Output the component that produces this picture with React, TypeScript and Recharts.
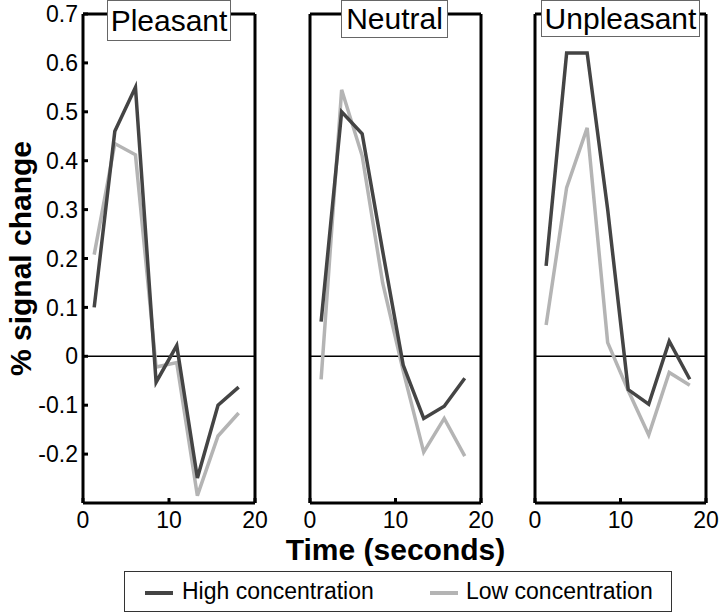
import { LineChart, Line, XAxis, YAxis, ReferenceLine } from 'recharts';

// time of each sample (seconds)
const times = [1.3, 3.7, 6.1, 8.5, 10.9, 13.3, 15.7, 18.1];

const pleasantHigh = [0.1, 0.46, 0.55, -0.053, 0.022, -0.249, -0.1, -0.063];
const pleasantLow = [0.208, 0.435, 0.412, -0.022, -0.013, -0.285, -0.163, -0.116];
const neutralHigh = [0.071, 0.5, 0.455, 0.215, -0.018, -0.127, -0.102, -0.045];
const neutralLow = [-0.047, 0.545, 0.41, 0.15, -0.03, -0.196, -0.127, -0.204];
const unpleasantHigh = [0.185, 0.62, 0.62, 0.3, -0.068, -0.098, 0.031, -0.047];
const unpleasantLow = [0.064, 0.345, 0.467, 0.028, -0.07, -0.161, -0.033, -0.059];

const yTicks = [-0.2, -0.1, 0, 0.1, 0.2, 0.3, 0.4, 0.5, 0.6, 0.7];
const xTicks = [0, 10, 20];

const HIGH = '#444';
const LOW = '#b4b4b4';
const FONT = '"Liberation Sans", Arial, sans-serif';

// left: div offset, yw: y axis width, rw: right margin
const panels = [
   { title: 'Pleasant', high: pleasantHigh, low: pleasantLow, left: 0, yw: 83, rw: 15, plotW: 172, box: [107, 124, 41] },
   { title: 'Neutral', high: neutralHigh, low: neutralLow, left: 275, yw: 35, rw: 35, plotW: 171, box: [341, 107, 38] },
   { title: 'Unpleasant', high: unpleasantHigh, low: unpleasantLow, left: 525, yw: 10, rw: 15, plotW: 171, box: [541, 159, 37] }
];

const legendItems = [
   { name: 'High concentration', color: HIGH, x: 20, tx: 57 },
   { name: 'Low concentration', color: LOW, x: 305, tx: 341 }
];

const Panel = ({ p, idx }: { p: (typeof panels)[number]; idx: number }) => {
   const data = times.map((t, i) => ({ t, high: p.high[i], low: p.low[i] }));
   const first = idx === 0;
   return (
      <div style={{ position: 'absolute', left: p.left, top: 0 }}>
         <LineChart
            width={p.yw + p.plotW + p.rw}
            height={612}
            data={data}
            margin={{ top: 14, right: p.rw, bottom: 79, left: 0 }}>
            <XAxis
               type="number"
               dataKey="t"
               domain={[0, 20]}
               ticks={xTicks}
               height={30}
               axisLine={{ stroke: '#000', strokeWidth: 3 }}
               tickLine={{ stroke: '#000', strokeWidth: 3 }}
               tickSize={-5}
               tickMargin={14}
               tick={{ fill: '#000', fontSize: 23 }}
               label={
                  idx === 1
                     ? {
                          value: 'Time (seconds)',
                          position: 'bottom',
                          offset: 6,
                          fill: '#000',
                          fontSize: 30,
                          fontWeight: 'bold'
                       }
                     : undefined
               }
            />
            <YAxis
               type="number"
               domain={[-0.3, 0.7]}
               ticks={yTicks}
               width={p.yw}
               allowDataOverflow
               axisLine={{ stroke: '#000', strokeWidth: 3 }}
               tickLine={{ stroke: '#000', strokeWidth: 3 }}
               tickSize={-5}
               tickMargin={10}
               tick={first ? { fill: '#000', fontSize: 23 } : false}
               label={
                  first
                     ? {
                          value: '% signal change',
                          angle: -90,
                          position: 'insideLeft',
                          offset: 20,
                          fill: '#000',
                          fontSize: 30,
                          fontWeight: 'bold',
                          style: { textAnchor: 'middle' }
                       }
                     : undefined
               }
            />
            <ReferenceLine y={0.7} stroke="#000" strokeWidth={3} />
            <ReferenceLine x={20} stroke="#000" strokeWidth={3} />
            <ReferenceLine y={0} stroke="#000" strokeWidth={1.5} />
            <Line
               type="linear"
               dataKey="low"
               stroke={LOW}
               strokeWidth={3.5}
               dot={false}
               isAnimationActive={false}
            />
            <Line
               type="linear"
               dataKey="high"
               stroke={HIGH}
               strokeWidth={3.5}
               dot={false}
               isAnimationActive={false}
            />
         </LineChart>
      </div>
   );
};

const App = () => (
   <div
      style={{
         position: 'absolute',
         left: 0,
         top: 0,
         width: 720,
         height: 612,
         background: '#fff',
         fontFamily: FONT,
         overflow: 'hidden'
      }}>
      {panels.map((p, i) => (
         <Panel key={p.title} p={p} idx={i} />
      ))}
      {panels.map(p => (
         <div
            key={'t' + p.title}
            style={{
               position: 'absolute',
               left: p.box[0],
               top: 0,
               width: p.box[1],
               height: p.box[2],
               lineHeight: p.box[2] - 2 + 'px',
               boxSizing: 'border-box',
               border: '1px solid #666',
               background: '#fff',
               textAlign: 'center',
               fontSize: 30,
               color: '#000'
            }}>
            {p.title}
         </div>
      ))}
      <div
         style={{
            position: 'absolute',
            left: 124,
            top: 571,
            width: 548,
            height: 41,
            boxSizing: 'border-box',
            border: '1px solid #333',
            background: '#fff'
         }}>
         {legendItems.map(it => (
            <div key={it.name}>
               <div
                  style={{
                     position: 'absolute',
                     left: it.x,
                     top: 19,
                     width: 28,
                     height: 4,
                     background: it.color
                  }}
               />
               <div
                  style={{
                     position: 'absolute',
                     left: it.tx,
                     top: 0,
                     lineHeight: '38px',
                     fontSize: 23,
                     color: '#000',
                     whiteSpace: 'nowrap'
                  }}>
                  {it.name}
               </div>
            </div>
         ))}
      </div>
   </div>
);

export default App;
